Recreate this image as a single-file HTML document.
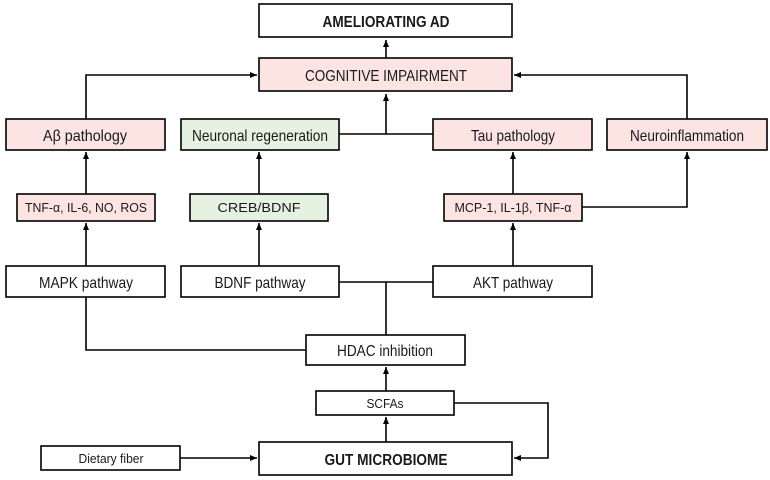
<!DOCTYPE html>
<html><head><meta charset="utf-8"><style>
html,body{margin:0;padding:0;background:#fff;}
svg{display:block;}
text{font-family:"Liberation Sans Narrow","Liberation Sans",sans-serif;fill:#1a1a1a;text-anchor:middle;}
</style></head><body>
<svg width="770" height="480" viewBox="0 0 770 480" xmlns="http://www.w3.org/2000/svg">
<defs>
<marker id="a" markerWidth="8" markerHeight="8" refX="7" refY="4" orient="auto" markerUnits="userSpaceOnUse">
<path d="M0,1 L7,4 L0,7 z" fill="#000"/></marker>
</defs>
<g stroke="#000" stroke-width="1.6" fill="none">
<!-- connectors -->
<line x1="386" y1="58" x2="386" y2="40" marker-end="url(#a)"/>
<polyline points="86,119 86,75 257,75" marker-end="url(#a)"/>
<polyline points="687,119 687,75 514,75" marker-end="url(#a)"/>
<line x1="339" y1="134" x2="433" y2="134"/>
<line x1="386" y1="134" x2="386" y2="94" marker-end="url(#a)"/>
<line x1="86" y1="194" x2="86" y2="152" marker-end="url(#a)"/>
<line x1="259" y1="194" x2="259" y2="152" marker-end="url(#a)"/>
<line x1="513" y1="194" x2="513" y2="152" marker-end="url(#a)"/>
<polyline points="582,207 687,207 687,152" marker-end="url(#a)"/>
<line x1="86" y1="266" x2="86" y2="223" marker-end="url(#a)"/>
<line x1="259" y1="266" x2="259" y2="223" marker-end="url(#a)"/>
<line x1="513" y1="266" x2="513" y2="223" marker-end="url(#a)"/>
<line x1="339" y1="282" x2="433" y2="282"/>
<line x1="386" y1="282" x2="386" y2="335"/>
<polyline points="86,297 86,350 306,350"/>
<line x1="386" y1="391" x2="386" y2="367" marker-end="url(#a)"/>
<line x1="386" y1="442" x2="386" y2="417" marker-end="url(#a)"/>
<polyline points="454,403 548,403 548,458 514,458" marker-end="url(#a)"/>
<line x1="180" y1="458" x2="257" y2="458" marker-end="url(#a)"/>
<!-- boxes -->
<rect x="259" y="4" width="253" height="33" fill="#fff"/>
<rect x="259" y="58" width="253" height="33" fill="#fbe4e2"/>
<rect x="6" y="119" width="159" height="31" fill="#fbe4e2"/>
<rect x="181" y="119" width="158" height="31" fill="#e6f2e1"/>
<rect x="433" y="119" width="159" height="31" fill="#fbe4e2"/>
<rect x="607" y="119" width="160" height="31" fill="#fbe4e2"/>
<rect x="17" y="194" width="138" height="27" fill="#fbe4e2"/>
<rect x="190" y="194" width="138" height="27" fill="#e6f2e1"/>
<rect x="444" y="194" width="138" height="27" fill="#fbe4e2"/>
<rect x="6" y="266" width="159" height="31" fill="#fff"/>
<rect x="181" y="266" width="158" height="31" fill="#fff"/>
<rect x="433" y="266" width="159" height="31" fill="#fff"/>
<rect x="306" y="335" width="159" height="30" fill="#fff"/>
<rect x="316" y="391" width="138" height="24" fill="#fff"/>
<rect x="259" y="442" width="253" height="33" fill="#fff"/>
<rect x="41" y="446" width="139" height="24" fill="#fff"/>
</g>
<g font-size="16">
<text x="386" y="27" font-weight="bold" textLength="127" lengthAdjust="spacingAndGlyphs">AMELIORATING AD</text>
<text x="386" y="81" textLength="162" lengthAdjust="spacingAndGlyphs">COGNITIVE IMPAIRMENT</text>
<text x="85" y="141" textLength="84" lengthAdjust="spacingAndGlyphs">Aβ pathology</text>
<text x="260" y="141" textLength="136" lengthAdjust="spacingAndGlyphs">Neuronal regeneration</text>
<text x="513" y="141" textLength="84" lengthAdjust="spacingAndGlyphs">Tau pathology</text>
<text x="687" y="141" textLength="114" lengthAdjust="spacingAndGlyphs">Neuroinflammation</text>
<text x="86" y="288" textLength="94" lengthAdjust="spacingAndGlyphs">MAPK pathway</text>
<text x="260" y="288" textLength="91" lengthAdjust="spacingAndGlyphs">BDNF pathway</text>
<text x="513" y="288" textLength="80" lengthAdjust="spacingAndGlyphs">AKT pathway</text>
<text x="385" y="356" textLength="96" lengthAdjust="spacingAndGlyphs">HDAC inhibition</text>
<text x="386" y="465" font-weight="bold" textLength="123" lengthAdjust="spacingAndGlyphs">GUT MICROBIOME</text>
</g>
<g font-size="13">
<text x="86" y="212" textLength="122" lengthAdjust="spacingAndGlyphs">TNF-α, IL-6, NO, ROS</text>
<text x="259" y="212" textLength="83" lengthAdjust="spacingAndGlyphs">CREB/BDNF</text>
<text x="513" y="212" textLength="117" lengthAdjust="spacingAndGlyphs">MCP-1, IL-1β, TNF-α</text>
<text x="385" y="408" textLength="37" lengthAdjust="spacingAndGlyphs">SCFAs</text>
<text x="111" y="463" textLength="65" lengthAdjust="spacingAndGlyphs">Dietary fiber</text>
</g>
</svg>
</body></html>
